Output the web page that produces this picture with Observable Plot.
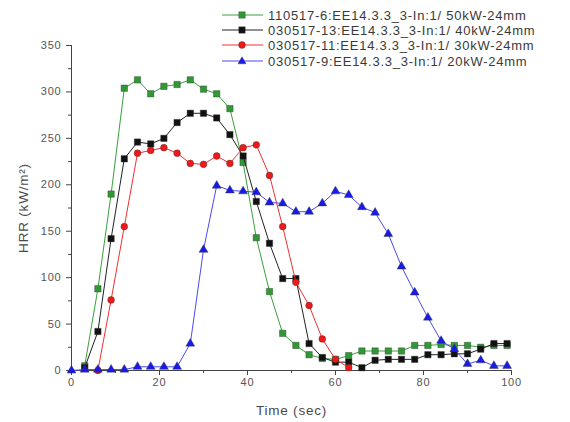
<!DOCTYPE html>
<html><head><meta charset="utf-8">
<script src="https://cdn.jsdelivr.net/npm/d3@7"></script>
<script src="https://cdn.jsdelivr.net/npm/@observablehq/plot@0.6"></script>
<style>
body{margin:0;background:#fff;}
#wrap{position:relative;width:570px;height:422px;font-family:"Liberation Sans",Arial,sans-serif;}
.row{position:absolute;left:222px;height:16px;display:flex;align-items:center;font-size:13px;color:#3a3a3a;letter-spacing:0.75px;white-space:nowrap;}
.row svg{margin-right:5px;}
svg text{letter-spacing:0.8px;}
</style></head>
<body><div id="wrap"></div>
<script>
const times = [0,3,6,9,12,15,18,21,24,27,30,33,36,39,42,45,48,51,54,57,60,63,66,69,72,75,78,81,84,87,90,93,96,99];
const green50 = [null,5,88,190,304,313,298,306,308,313,303,298,282,224,143,85,40,27,17,13,12,16,21,21,21,21,27,27,28,27,27,25,27,27];
const black40 = [null,3,42,142,228,246,244,250,267,277,277,272,254,231,182,137,99,99,29,14,9,9,3,11,12,12,12,17,17,18,18,23,29,29];
const red30 = [null,null,0,76,155,234,237,240,234,223,222,231,223,240,243,210,155,95,70,34,12,3,null,null,null,null,null,null,null,null,null,null,null,null];
const blue20 = [0,1,1,1,1,4,4,4,4,29,130,199,194,193,192,181,180,171,171,180,193,189,176,170,147,112,84,57,32,23,7,11,5,5];
const seriesNames = [
  "110517-6:EE14.3.3_3-In:1/ 50kW-24mm",
  "030517-13:EE14.3.3_3-In:1/ 40kW-24mm",
  "030517-11:EE14.3.3_3-In:1/ 30kW-24mm",
  "030517-9:EE14.3.3_3-In:1/ 20kW-24mm"
];
const xLabel = "Time (sec)";
const yLabel = "HRR (kW/m²)";
const xTicks = [0,20,40,60,80,100];
const xMinor = [10,30,50,70,90];
const yTicks = [0,50,100,150,200,250,300,350];
const yMinor = [25,75,125,175,225,275,325];

const colors = ["#2f9a33","#111111","#f01818","#1a1ae8"];
const lineColors = ["#3aa03a","#222222","#f03030","#4a4af0"];
const symbols = ["square","square","circle","triangle"];
const radii = [3.6,3.6,3.4,3.3];
const allValues = [green50, black40, red30, blue20];

const marks = [
  Plot.axisX({ticks:xMinor, tickSize:3, tickFormat:()=>"", label:null, stroke:"#444"}),
  Plot.axisX({ticks:xTicks, tickSize:5, tickPadding:3, label:null, stroke:"#444", fill:"#555"}),
  Plot.axisY({ticks:yMinor, tickSize:3, tickFormat:()=>"", label:null, stroke:"#444"}),
  Plot.axisY({ticks:yTicks, tickSize:5, tickPadding:5, label:null, stroke:"#444", fill:"#555"}),
  Plot.text([xLabel], {text:d=>d, frameAnchor:"bottom", dy:44, fontSize:13.5, fill:"#4a4a4a"}),
  Plot.text([yLabel], {text:d=>d, frameAnchor:"left", textAnchor:"middle", dx:-48, rotate:-90, fontSize:13.5, fill:"#4a4a4a"}),
  Plot.ruleX([0], {stroke:"#444"}),
  Plot.ruleY([0], {stroke:"#444"})
];
allValues.forEach((vals, i) => {
  const rows = times.map((t, k) => ({t, v: vals[k]})).filter(d => d.v != null);
  marks.push(Plot.line(rows, {x:"t", y:"v", stroke:lineColors[i], strokeWidth:1}));
  marks.push(Plot.dot(rows, {x:"t", y:"v", symbol:()=>symbols[i], r:radii[i], fill:colors[i], stroke:"#333", strokeWidth:0.4}));
});

const plot = Plot.plot({
  width:570, height:422,
  marginLeft:71, marginRight:59, marginTop:45, marginBottom:52,
  x:{domain:[0,100]},
  y:{domain:[0,350]},
  symbol:{type:"identity"},
  style:{fontFamily:'"Liberation Sans",Arial,sans-serif', fontSize:"11px", color:"#444", background:"white", overflow:"visible"},
  marks
});
const wrap = document.getElementById("wrap");
wrap.appendChild(plot);

const rowTops = [15,30,45,61];
const symPaths = {
  square: "M-3.2,-3.2h6.4v6.4h-6.4z",
  triangle: "M0,-4.2L4,2.8L-4,2.8z"
};
seriesNames.forEach((name, i) => {
  const row = document.createElement("div");
  row.className = "row";
  row.style.top = (rowTops[i] - 8) + "px";
  let marker;
  if (symbols[i] === "circle") marker = `<circle cx="20" cy="6" r="3.4" fill="${colors[i]}" stroke="#333" stroke-width="0.4"/>`;
  else marker = `<path transform="translate(20,6)" d="${symPaths[symbols[i]]}" fill="${colors[i]}" stroke="#333" stroke-width="0.4"/>`;
  row.innerHTML = `<svg width="41" height="12"><line x1="0" x2="41" y1="6" y2="6" stroke="${lineColors[i]}" stroke-width="1"/>${marker}</svg><span>${name}</span>`;
  wrap.appendChild(row);
});
</script>
</body></html>
